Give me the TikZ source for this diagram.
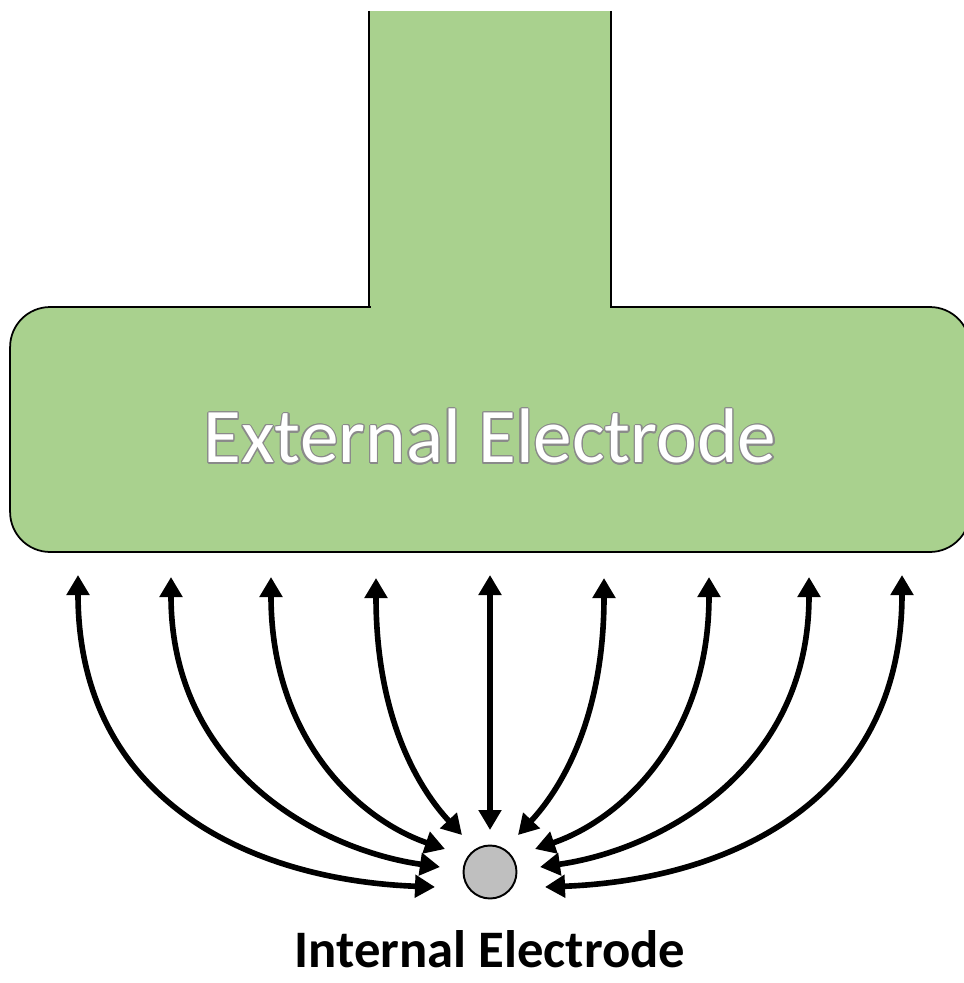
\documentclass[tikz,border=0pt]{standalone}
\usepackage{fontspec}
\setmainfont{Carlito}
\usepackage[copies]{contour}
\usetikzlibrary{positioning,arrows.meta}

\definecolor{electrodegreen}{HTML}{A9D18E}
\definecolor{internalgray}{HTML}{BFBFBF}
\definecolor{outlinegray}{HTML}{8A8A8A}
\contourlength{0.7pt}

\begin{document}
\begin{tikzpicture}[
        x=0.02cm, y=-0.02cm,
        >={Triangle[length=4mm,width=4.4mm]},
        basebox/.style={
            draw=black,
            fill=electrodegreen,
            line width=1pt,
            rounded corners=0.8cm,
            minimum width=19.2cm,
            minimum height=4.9cm,
            inner sep=0pt
        },
        innerdot/.style={
            draw=black,
            fill=internalgray,
            circle,
            line width=1.1pt,
            minimum size=1.06cm,
            inner sep=0pt
        },
        field/.style={
            <->,
            line width=3.2pt
        }
    ]
    \useasboundingbox (0,0) rectangle (963,983);

    % Elektroden
    \fill[electrodegreen] (369,11) rectangle (611,320);
    \node[basebox] (external) at (490,429.5) {};
    \fill[electrodegreen] (370.5,300) rectangle (609.5,312);
    \draw[line width=1pt] (369,11) -- (369,307.5);
    \draw[line width=1pt] (611,11) -- (611,307.5);

    \node[font=\fontsize{44}{52}\selectfont] (externaltext) at (490,437)
        {\contour{outlinegray}{\textcolor{white}{External Electrode}}};

    \node[innerdot] (internal) at (490,872) {};
    \node[font=\bfseries\fontsize{30}{36}\selectfont, below=0.5cm of internal] (internaltext)
        {Internal Electrode};

    % Feldlinien
    \coordinate (e1) at (78,575);
    \coordinate (e2) at (171,577);
    \coordinate (e3) at (271,577);
    \coordinate (e4) at (376,578);
    \coordinate (e5) at (490,575);
    \coordinate (e6) at (604,578);
    \coordinate (e7) at (709,577);
    \coordinate (e8) at (809,577);
    \coordinate (e9) at (902,575);

    \coordinate (i1) at (435,887);
    \coordinate (i2) at (440,867);
    \coordinate (i3) at (445,849);
    \coordinate (i4) at (462,835);
    \coordinate (i5) at (490,830);
    \coordinate (i6) at (518,835);
    \coordinate (i7) at (535,849);
    \coordinate (i8) at (540,867);
    \coordinate (i9) at (545,887);

    \draw[field] (e1) .. controls (78,800) and (250,880) .. (i1);
    \draw[field] (e2) .. controls (171,770) and (320,850) .. (i2);
    \draw[field] (e3) .. controls (271,740) and (360,820) .. (i3);
    \draw[field] (e4) .. controls (376,720) and (420,790) .. (i4);
    \draw[field] (e5) -- (i5);
    \draw[field] (e6) .. controls (604,720) and (560,790) .. (i6);
    \draw[field] (e7) .. controls (709,740) and (620,820) .. (i7);
    \draw[field] (e8) .. controls (809,770) and (660,850) .. (i8);
    \draw[field] (e9) .. controls (902,800) and (730,880) .. (i9);

\end{tikzpicture}
\end{document}
